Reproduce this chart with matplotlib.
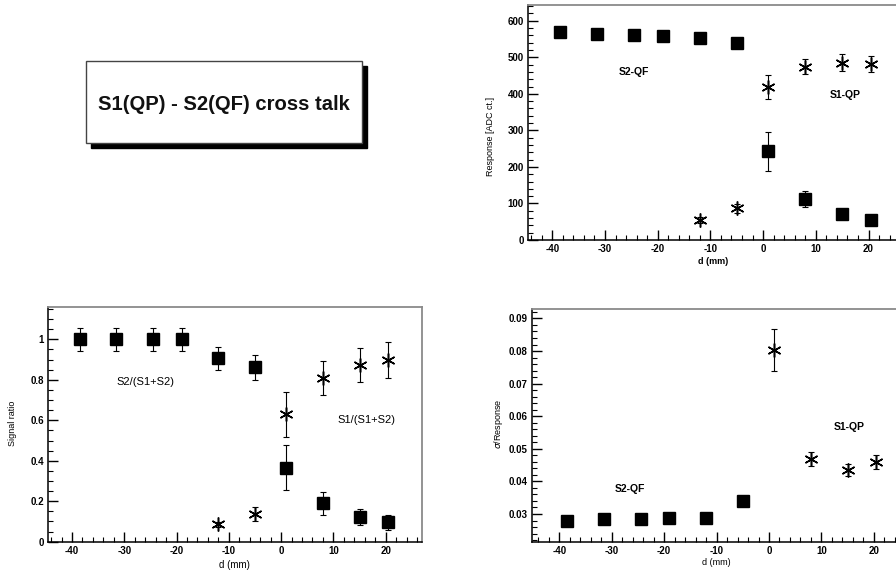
import matplotlib
matplotlib.use("Agg")
import matplotlib.pyplot as plt
from matplotlib.patches import Rectangle
from matplotlib.ticker import MultipleLocator

plt.rcParams['font.family'] = ['Liberation Sans', 'DejaVu Sans']
plt.rcParams['axes.unicode_minus'] = False

# positions (mm)
d_qf = [-38.5, -31.5, -24.5, -19, -12, -5, 1, 8, 15, 20.5]
d_qp = [-12, -5, 1, 8, 15, 20.5]

# response [ADC ct.]
resp_qf = [568, 563, 562, 558, 553, 540, 243, 111, 71, 55]
resp_qf_err = [9, 9, 9, 9, 9, 10, 53, 22, 13, 11]
resp_qp = [55, 87, 419, 474, 485, 481]
resp_qp_err = [8, 12, 33, 20, 23, 22]

# signal ratio
ratio_qf = [1.0, 1.0, 1.0, 1.0, 0.906, 0.862, 0.366, 0.19, 0.122, 0.096]
ratio_qf_err = [0.058, 0.058, 0.058, 0.058, 0.055, 0.063, 0.11, 0.057, 0.04, 0.037]
ratio_qp = [0.086, 0.137, 0.629, 0.81, 0.873, 0.898]
ratio_qp_err = [0.012, 0.033, 0.11, 0.085, 0.084, 0.09]

# sigma / response
sig_qf_d = [-38.5, -31.5, -24.5, -19, -12, -5]
sig_qf = [0.0280, 0.0284, 0.0286, 0.0288, 0.0288, 0.0341]
sig_qp_d = [1, 8, 15, 20.5]
sig_qp = [0.0803, 0.0468, 0.0435, 0.0460]
sig_qp_err = [0.0065, 0.0022, 0.0018, 0.0022]

star = (6, 2, 0)

fig = plt.figure(figsize=(8.96, 5.71), dpi=100)


def style(ax, xlim, ylim, ymaj, ymin):
    ax.set_xlim(*xlim)
    ax.set_ylim(*ylim)
    ax.xaxis.set_major_locator(MultipleLocator(10))
    ax.xaxis.set_minor_locator(MultipleLocator(2))
    ax.yaxis.set_major_locator(MultipleLocator(ymaj))
    ax.yaxis.set_minor_locator(MultipleLocator(ymin))
    ax.tick_params(which='both', direction='in', top=False, right=False,
                   labelsize=7, pad=3)
    ax.tick_params(which='major', length=7, width=1)
    ax.tick_params(which='minor', length=3.5, width=0.8)
    for lab in ax.get_xticklabels() + ax.get_yticklabels():
        lab.set_fontweight('bold')
    for s in ['top', 'right']:
        ax.spines[s].set_color('#8a8a8a')
        ax.spines[s].set_linewidth(1.3)
    for s in ['left', 'bottom']:
        ax.spines[s].set_linewidth(1.1)


def squares(ax, x, y, err=None):
    ax.errorbar(x, y, yerr=err, fmt='s', color='black', ms=8, elinewidth=0.8,
                capsize=2, capthick=0.8)


def stars(ax, x, y, err=None):
    ax.errorbar(x, y, yerr=err, fmt='none', ecolor='black', elinewidth=0.8,
                capsize=2, capthick=0.8)
    ax.plot(x, y, linestyle='none', marker=star, ms=10, mew=1.1, color='black')


# title box
fig.patches.append(Rectangle((91 / 896, 1 - 147.5 / 571), 276 / 896, 81.7 / 571,
                             transform=fig.transFigure, facecolor='black',
                             edgecolor='black', zorder=1))
fig.patches.append(Rectangle((85.7 / 896, 1 - 142.7 / 571), 276 / 896, 81.7 / 571,
                             transform=fig.transFigure, facecolor='white',
                             edgecolor='#444444', linewidth=1.0, zorder=2))
fig.text(224 / 896, 1 - 105 / 571, "S1(QP) - S2(QF) cross talk", ha='center',
         va='center', fontsize=14.6, fontweight='bold', color='#111111', zorder=3)

# top right: response
ax1 = fig.add_axes([528 / 896, 1 - 240 / 571, 379 / 896, 235 / 571])
squares(ax1, d_qf, resp_qf, resp_qf_err)
stars(ax1, d_qp, resp_qp, resp_qp_err)
style(ax1, (-44.6, 27.3), (0, 643), 100, 20)
ax1.set_ylabel("Response [ADC ct.]", fontsize=6.5)
ax1.yaxis.set_label_coords(-0.087, 0.44)
ax1.set_xlabel("d (mm)", fontsize=6.5, fontweight='bold')
ax1.xaxis.set_label_coords(0.488, -0.072)
ax1.text(-24.5, 460, "S2-QF", ha='center', va='center', fontsize=7.5, fontweight='bold')
ax1.text(15.6, 397, "S1-QP", ha='center', va='center', fontsize=7.5, fontweight='bold')

# bottom left: signal ratio
ax2 = fig.add_axes([48 / 896, 1 - 541.7 / 571, 373.7 / 896, 234.7 / 571])
squares(ax2, d_qf, ratio_qf, ratio_qf_err)
stars(ax2, d_qp, ratio_qp, ratio_qp_err)
style(ax2, (-44.6, 26.9), (0, 1.16), 0.2, 0.05)
ax2.yaxis.set_major_formatter(plt.FuncFormatter(lambda v, p: "%g" % round(v, 2)))
ax2.set_ylabel("Signal ratio", fontsize=6.5)
ax2.yaxis.set_label_coords(-0.083, 0.506)
ax2.set_xlabel("d (mm)", fontsize=7)
ax2.xaxis.set_label_coords(0.498, -0.076)
ax2.text(-26.0, 0.79, "S2/(S1+S2)", ha='center', va='center', fontsize=8)
ax2.text(16.4, 0.60, "S1/(S1+S2)", ha='center', va='center', fontsize=8)

# bottom right: sigma / response
ax3 = fig.add_axes([532 / 896, 1 - 541.7 / 571, 377 / 896, 232.7 / 571])
squares(ax3, sig_qf_d, sig_qf)
stars(ax3, sig_qp_d, sig_qp, sig_qp_err)
style(ax3, (-45.2, 26.7), (0.0215, 0.0929), 0.01, 0.002)
ax3.set_ylabel(r"$\sigma$/Response", fontsize=6.5)
ax3.yaxis.set_label_coords(-0.072, 0.506)
ax3.set_xlabel("d (mm)", fontsize=6.5)
ax3.xaxis.set_label_coords(0.49, -0.068)
ax3.text(-26.5, 0.0377, "S2-QF", ha='center', va='center', fontsize=7.5, fontweight='bold')
ax3.text(15.3, 0.0568, "S1-QP", ha='center', va='center', fontsize=7.5, fontweight='bold')

fig.savefig("out.png", dpi=100)
